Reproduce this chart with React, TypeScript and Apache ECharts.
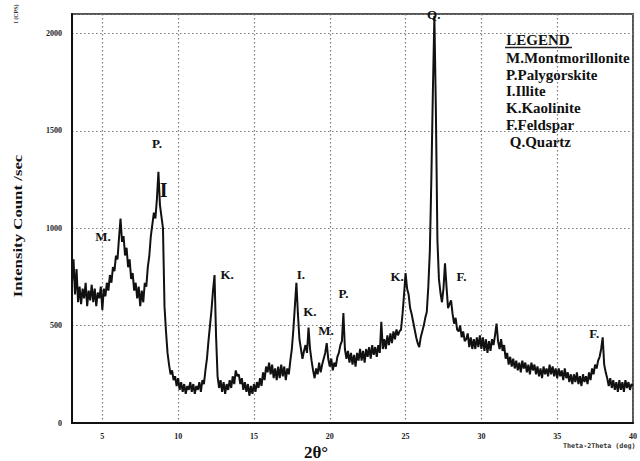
import React, { useEffect, useRef } from "react";
import * as echarts from "echarts";

// XRD scan: 2θ from 3° to 40°, 0.1° step
const START_ANGLE = 3;
const STEP_DEG = 0.1;

// Intensity (counts/sec), one value per 0.1°
const intensity = [
  720, 840, 660, 790, 620, 700, 610, 690, 640, 720, // 3
  600, 680, 630, 710, 620, 690, 600, 670, 640, 700, // 4
  580, 690, 650, 720, 680, 760, 720, 800, 780, 860, // 5
  840, 950, 1050, 930, 960, 860, 900, 800, 840, 740, // 6
  770, 680, 720, 640, 700, 600, 680, 620, 720, 700, // 7
  800, 860, 960, 1020, 1080, 1050, 1150, 1290, 1120, 1060, // 8
  1000, 600, 470, 360, 300, 250, 270, 220, 240, 190, // 9
  230, 170, 210, 160, 200, 150, 190, 170, 210, 160, // 10
  200, 150, 190, 170, 210, 160, 220, 200, 270, 330, // 11
  420, 500, 580, 680, 760, 450, 240, 180, 220, 160, // 12
  210, 150, 200, 170, 220, 180, 240, 200, 270, 240, // 13
  250, 200, 230, 170, 210, 160, 200, 140, 190, 150, // 14
  200, 160, 210, 180, 230, 190, 260, 220, 290, 260, // 15
  310, 250, 300, 230, 280, 220, 290, 230, 300, 240, // 16
  290, 220, 280, 250, 320, 380, 480, 600, 720, 560, // 17
  430, 380, 330, 370, 400, 360, 490, 380, 320, 270, // 18
  230, 280, 250, 310, 260, 300, 330, 360, 410, 330, // 19
  290, 330, 270, 310, 290, 340, 360, 400, 420, 565, // 20
  380, 330, 370, 310, 360, 300, 350, 290, 360, 320, // 21
  380, 320, 370, 310, 380, 340, 390, 330, 400, 350, // 22
  390, 340, 400, 360, 520, 380, 430, 380, 450, 400, // 23
  460, 410, 470, 430, 480, 450, 470, 480, 560, 660, // 24
  770, 690, 660, 590, 560, 520, 480, 440, 410, 390, // 25
  440, 470, 500, 540, 570, 700, 880, 1250, 1700, 2090, // 26
  1600, 940, 740, 670, 620, 690, 820, 700, 590, 610, // 27
  630, 560, 510, 540, 480, 470, 500, 440, 470, 420, // 28
  430, 460, 390, 440, 380, 430, 380, 440, 390, 450, // 29
  380, 440, 370, 430, 360, 420, 370, 430, 400, 450, // 30
  510, 420, 380, 430, 370, 400, 330, 360, 300, 340, // 31
  290, 330, 280, 320, 270, 310, 260, 320, 280, 310, // 32
  260, 300, 250, 310, 270, 300, 250, 290, 240, 280, // 33
  230, 290, 250, 280, 240, 300, 250, 290, 240, 280, // 34
  230, 280, 240, 270, 220, 280, 230, 260, 210, 250, // 35
  200, 250, 210, 260, 200, 240, 190, 250, 210, 240, // 36
  200, 260, 220, 280, 250, 300, 280, 320, 340, 380, // 37
  440, 300, 260, 230, 190, 230, 180, 220, 170, 210, // 38
  160, 220, 170, 210, 160, 220, 180, 210, 170, 200, // 39
  190, // 40
];

// Phase labels placed at (2θ, intensity)
const peakLabels = [
  { text: "M.", angle: 5.05, counts: 957 },
  { text: "P.", angle: 8.6, counts: 1436 },
  { text: "I", angle: 9.05, counts: 1196, big: true },
  { text: "K.", angle: 13.23, counts: 765 },
  { text: "I.", angle: 18.1, counts: 765 },
  { text: "K.", angle: 18.69, counts: 575 },
  { text: "M.", angle: 19.75, counts: 477 },
  { text: "P.", angle: 20.9, counts: 667 },
  { text: "K.", angle: 24.44, counts: 752 },
  { text: "Q.", angle: 26.86, counts: 2100 },
  { text: "F.", angle: 28.69, counts: 752 },
  { text: "F.", angle: 37.44, counts: 460 },
];

const legendTitle = "LEGEND";
const legendEntries = [
  "M.Montmorillonite",
  "P.Palygorskite",
  "I.Illite",
  "K.Kaolinite",
  "F.Feldspar",
  " Q.Quartz",
];

const yAxisTitle = "Intensity Count /sec";
const xAxisTitle = "2θ°";
const scanCaption = "Theta-2Theta (deg)";
const unitCaption = "I (CPS)";

const SERIF = "Liberation Serif";

export default function App() {
  const ref = useRef<HTMLDivElement>(null);

  useEffect(() => {
    if (!ref.current) return;
    const chart = echarts.init(ref.current, null, { renderer: "svg" });
    const lineData = intensity.map((v, i) => [
      Number((START_ANGLE + i * STEP_DEG).toFixed(1)),
      v,
    ]);

    const gridLine = {
      show: true,
      lineStyle: { color: "#7a7a7a", width: 1.2, type: [1.5, 2.5] as number[] },
    };

    const textStyle = (size: number, extra: any = {}) => ({
      fontFamily: SERIF,
      fontWeight: "bold",
      fontSize: size,
      fill: "#111",
      ...extra,
    });

    const legendGraphics: any[] = [
      {
        type: "text",
        x: 538,
        y: 40,
        style: textStyle(15, {
          text: legendTitle,
          textAlign: "center",
          textVerticalAlign: "middle",
        }),
      },
      {
        type: "line",
        shape: { x1: 505, y1: 47.5, x2: 572, y2: 47.5 },
        style: { stroke: "#222", lineWidth: 1.3 },
      },
      ...legendEntries.map((t, i) => ({
        type: "text",
        x: 506,
        y: 58 + i * 16.7,
        style: textStyle(15, {
          text: t,
          textAlign: "left",
          textVerticalAlign: "middle",
        }),
      })),
    ];

    const labelBase = {
      fontFamily: SERIF,
      fontWeight: "bold",
      color: "#111",
      textBorderWidth: 0,
    };

    chart.setOption({
      animation: false,
      backgroundColor: "#ffffff",
      grid: {
        left: 72,
        right: 2,
        top: 14,
        bottom: 38,
        show: true,
        borderColor: "#555",
        borderWidth: 2,
      },
      xAxis: {
        type: "value",
        min: 3,
        max: 40,
        splitNumber: 7,
        minInterval: 5,
        maxInterval: 5,
        axisLine: { show: true, onZero: false, lineStyle: { color: "#111", width: 2 } },
        axisTick: { show: false },
        axisLabel: {
          showMinLabel: false,
          color: "#222",
          fontFamily: SERIF,
          fontSize: 8,
          fontWeight: "bold",
          margin: 9,
          formatter: (v: number) => String(v),
        },
        splitLine: gridLine,
      },
      yAxis: {
        type: "value",
        min: 0,
        max: 2100,
        interval: 500,
        axisLine: { show: true, lineStyle: { color: "#111", width: 2 } },
        axisTick: { show: false },
        axisLabel: {
          showMaxLabel: false,
          color: "#222",
          fontFamily: SERIF,
          fontSize: 8,
          fontWeight: "bold",
          margin: 10,
          formatter: (v: number) => String(v),
        },
        splitLine: gridLine,
      },
      series: [
        {
          type: "line",
          data: lineData,
          symbol: "none",
          lineStyle: { color: "#111", width: 2 },
          clip: true,
          z: 3,
        },
        {
          type: "scatter",
          silent: true,
          clip: false,
          symbol: "circle",
          symbolSize: 0.01,
          itemStyle: { color: "#111", opacity: 1 },
          z: 5,
          label: {
            show: true,
            position: "inside",
            formatter: "{b}",
            fontSize: 13,
            ...labelBase,
          },
          data: peakLabels.map((p) => ({
            name: p.text,
            value: [p.angle, p.counts],
            label: p.big ? { fontSize: 20, ...labelBase } : undefined,
          })),
        },
      ],
      graphic: [
        {
          type: "text",
          x: 18,
          y: 226,
          rotation: Math.PI / 2,
          scaleX: 1.4,
          style: textStyle(12, {
            text: yAxisTitle,
            textAlign: "center",
            textVerticalAlign: "middle",
          }),
        },
        {
          type: "text",
          x: 16,
          y: 14,
          rotation: Math.PI / 2,
          style: textStyle(6, {
            text: unitCaption,
            fill: "#333",
            textAlign: "center",
            textVerticalAlign: "middle",
          }),
        },
        {
          type: "text",
          x: 316,
          y: 452,
          style: textStyle(17, {
            text: xAxisTitle,
            textAlign: "center",
            textVerticalAlign: "middle",
          }),
        },
        {
          type: "text",
          x: 563,
          y: 446,
          style: {
            text: scanCaption,
            fontFamily: "DejaVu Sans Mono",
            fontWeight: "bold",
            fontSize: 6.7,
            fill: "#333",
            textAlign: "left",
            textVerticalAlign: "middle",
          },
        },
        ...legendGraphics,
      ],
    });

    return () => chart.dispose();
  }, []);

  return (
    <div
      ref={ref}
      style={{ position: "fixed", left: 0, top: 0, width: 640, height: 461, background: "#fff" }}
    />
  );
}
